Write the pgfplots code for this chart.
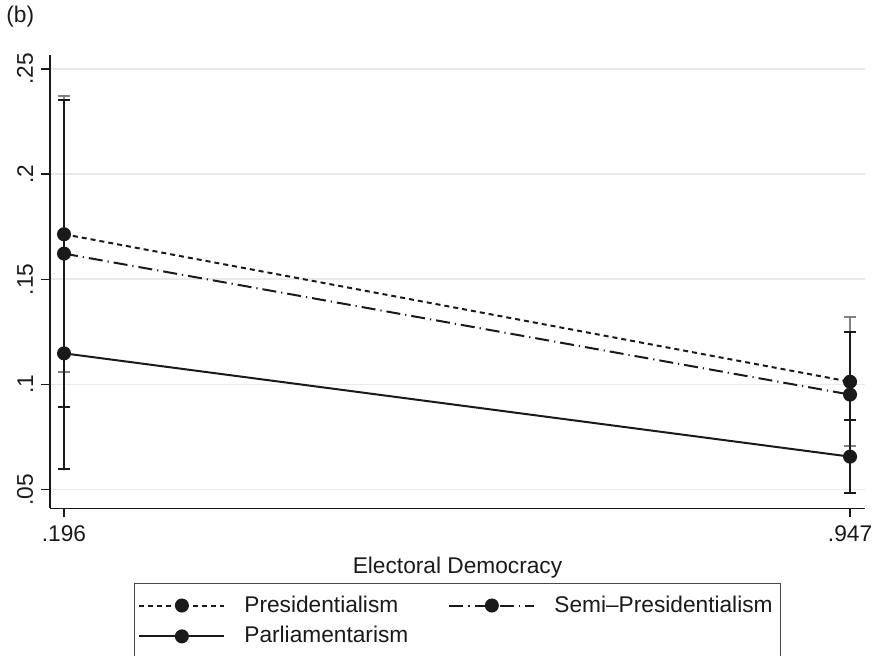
\documentclass[border=0pt]{standalone}
\usepackage{fontspec}
\setmainfont{Liberation Sans}
\usepackage{pgfplots}
\pgfplotsset{compat=1.18}
\definecolor{ink}{HTML}{1A1A1A}
\definecolor{gridc}{HTML}{EAEAEA}
\definecolor{ciP}{HTML}{808080}

\begin{document}
\fontsize{11.35pt}{13.5pt}\selectfont
\begin{tikzpicture}
\useasboundingbox (0pt,0pt) rectangle (437.5pt,328pt);
\node[anchor=west, inner sep=0pt, text=ink] at (3pt,319.5pt) {(b)};
\begin{axis}[
  at={(25pt,73.85pt)}, anchor=south west,
  scale only axis, width=407.5pt, height=226.65pt,
  xmin=0.1826, xmax=0.9613, ymin=0.04116, ymax=0.2566,
  axis x line*=bottom, axis y line*=left,
  axis line style={ink, line width=0.75pt},
  tick align=outside, major tick length=4.5pt,
  tick style={ink, line width=0.75pt},
  xtick={0.196,0.947}, xticklabels={.196,.947},
  ytick={0.05,0.1,0.15,0.2,0.25}, yticklabels={.05,.1,.15,.2,.25},
  yticklabel style={rotate=90, anchor=south},
  ticklabel style={text=ink},
  ymajorgrids, grid style={gridc, line width=0.8pt},
  xlabel={Electoral Democracy},
  xlabel style={text=ink},
  legend columns=2,
  legend cell align=left,
  legend style={at={(0.5,-0.1648)}, anchor=north, draw=ink!80, line width=0.6pt,
    text=ink, inner xsep=2pt, inner ysep=4pt,
    /tikz/every even column/.append style={column sep=18pt},
    row sep=1.5pt},
  legend image code/.code={%
    \draw[mark repeat=2,mark phase=2] plot coordinates {(0pt,0pt)(21.25pt,0pt)(42.5pt,0pt)};
    \path (50pt,0pt);},
]
% confidence intervals (drawn beneath the point estimates)
\addplot[only marks, mark=none, forget plot,
  error bars/.cd, y dir=both, y explicit,
  error bar style={ciP, line width=1pt},
  error mark options={rotate=90, ciP, line width=1pt, mark size=3pt}]
  coordinates {(0.196,0.1714) +- (0,0.0657) (0.947,0.1013) +- (0,0.0307)};
\addplot[only marks, mark=none, forget plot,
  error bars/.cd, y dir=both, y explicit,
  error bar style={ink, line width=1pt},
  error mark options={rotate=90, ink, line width=1pt, mark size=3pt}]
  coordinates {(0.196,0.1622) +- (0,0.0730) (0.947,0.0952) +- (0,0.0298)};
\addplot[only marks, mark=none, forget plot,
  error bars/.cd, y dir=both, y explicit,
  error bar style={ink, line width=1pt},
  error mark options={rotate=90, ink, line width=1pt, mark size=3pt}]
  coordinates {(0.196,0.1148) +- (0,0.0551) (0.947,0.0657) +- (0,0.0174)};
% point estimates
\addplot[ink, line width=1pt, dash pattern=on 2.5pt off 2pt,
  mark=*, mark size=3pt, mark options={solid, fill=ink}]
  coordinates {(0.196,0.1714) (0.947,0.1013)};
\addlegendentry{Presidentialism}
\addplot[ink, line width=1pt, dash pattern=on 7pt off 2.5pt on 0.6pt off 2.5pt,
  mark=*, mark size=3pt, mark options={solid, fill=ink}]
  coordinates {(0.196,0.1622) (0.947,0.0952)};
\addlegendentry{Semi--Presidentialism}
\addplot[ink, line width=1pt, solid,
  mark=*, mark size=3pt, mark options={solid, fill=ink}]
  coordinates {(0.196,0.1148) (0.947,0.0657)};
\addlegendentry{Parliamentarism}
\end{axis}
\end{tikzpicture}
\end{document}
